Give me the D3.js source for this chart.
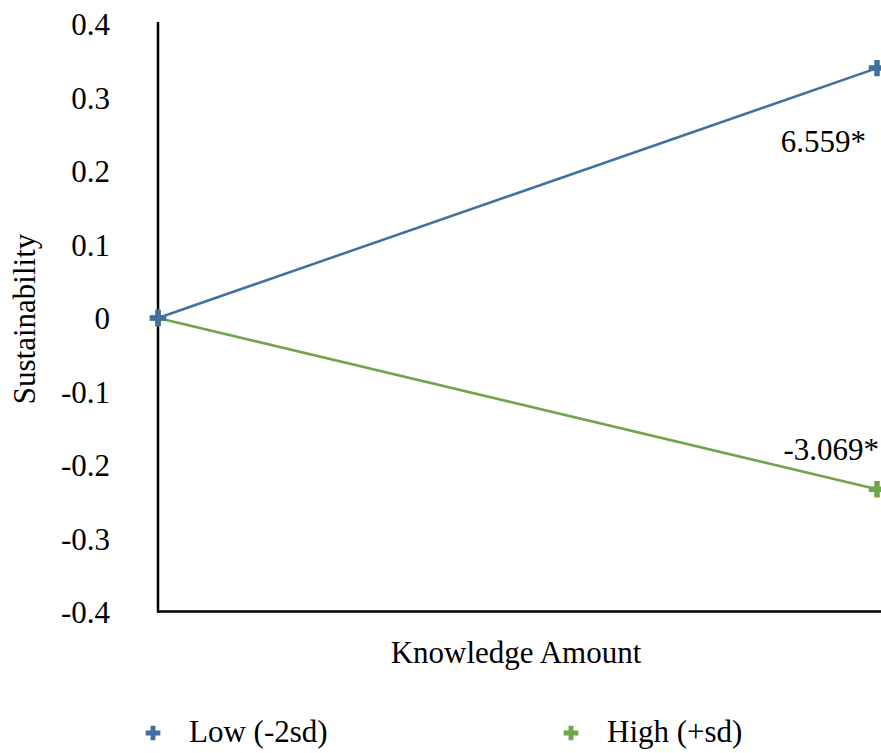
<!DOCTYPE html>
<html><head><meta charset="utf-8">
<script src="https://cdn.jsdelivr.net/npm/d3@7"></script>
<style>body{margin:0;background:#fff}svg{display:block}</style>
</head><body>
<svg id="c" width="881" height="753" font-family="Liberation Serif, Times New Roman, serif"></svg>
<script>
const categories = ["Low", "High"];
const seriesNames = ["Low (-2sd)", "High (+sd)"];
const lowValues = [0, 0.34];
const highValues = [0, -0.233];
const annotations = ["6.559*", "-3.069*"];
const yTicks = [0.4, 0.3, 0.2, 0.1, 0, -0.1, -0.2, -0.3, -0.4];
const colors = ["#41709f", "#6fa64b"];
const FONT = "Liberation Serif, Times New Roman, serif";
const FS = 31;

const svg = d3.select("#c");
const x = d3.scalePoint().domain(categories).range([158, 877]);
const y = d3.scaleLinear().domain([-0.4, 0.4]).range([612, 24]);

const yAxis = d3.axisLeft(y).tickValues(yTicks).tickSize(0).tickPadding(48)
  .tickFormat(d => d === 0 ? "0" : d3.format(".1f")(d).replace("\u2212", "-"));
const gy = svg.append("g").attr("transform", "translate(158,0)").call(yAxis)
  .attr("font-family", FONT);
gy.select(".domain").remove();
gy.selectAll("text").attr("font-size", FS).attr("font-family", FONT).attr("fill", "#000").attr("dy", "0.35em");

svg.append("line").attr("x1", 158).attr("x2", 158).attr("y1", 22).attr("y2", 612.5)
  .attr("stroke", "#000").attr("stroke-width", 2.5);
svg.append("line").attr("x1", 157).attr("x2", 881).attr("y1", 611.5).attr("y2", 611.5)
  .attr("stroke", "#000").attr("stroke-width", 2.5);

const series = [lowValues, highValues];
const line = d3.line().x((d, i) => x(categories[i])).y(d => y(d));
const plus = d3.symbol().type(d3.symbolCross).size(150);
[1, 0].forEach(s => {
  svg.append("path").attr("d", line(series[s])).attr("fill", "none")
    .attr("stroke", colors[s]).attr("stroke-width", 2.5);
});
[1, 0].forEach(s => {
  svg.selectAll(null).data(series[s]).enter().append("path")
    .attr("d", plus).attr("fill", colors[s])
    .attr("transform", (d, i) => `translate(${x(categories[i])},${y(d)})`);
});

function txt(xp, yp, t, anchor) {
  return svg.append("text").attr("x", xp).attr("y", yp).attr("text-anchor", anchor || "start")
    .attr("font-size", FS).attr("font-family", FONT).attr("fill", "#000").text(t);
}
txt(866, y(lowValues[1]) + 84, annotations[0], "end");
txt(879, y(highValues[1]) - 29, annotations[1], "end");
txt(516, 663, "Knowledge Amount", "middle");
svg.append("text").attr("transform", "translate(35,319) rotate(-90)").attr("text-anchor", "middle")
  .attr("font-size", FS).attr("font-family", FONT).text("Sustainability");

const legendX = [153, 571];
const legendTextX = [189, 607];
seriesNames.forEach((n, s) => {
  svg.append("path").attr("d", d3.symbol().type(d3.symbolCross).size(120)())
    .attr("fill", colors[s]).attr("transform", `translate(${legendX[s]},733)`);
  txt(legendTextX[s], 742, n);
});
</script>
</body></html>
